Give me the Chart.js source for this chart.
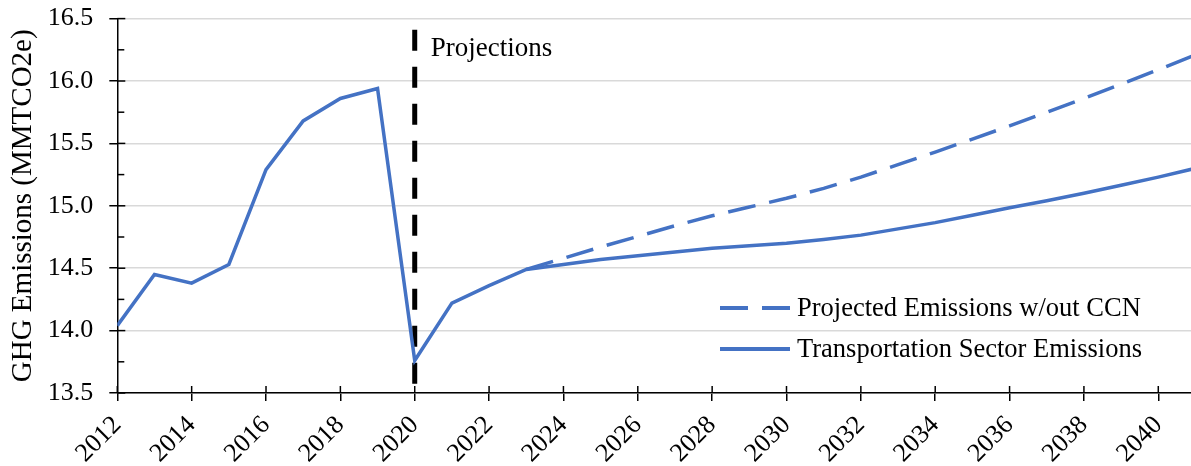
<!DOCTYPE html>
<html>
<head>
<meta charset="utf-8">
<script src="https://cdn.jsdelivr.net/npm/chart.js@4.4.1/dist/chart.umd.min.js"></script>
<style>
  body { margin: 0; background: #fff; }
  #wrap { width: 1191px; height: 466px; }
</style>
</head>
<body>
<div id="wrap"><canvas id="ghg-chart" width="1191" height="466"></canvas></div>
<script>
// Chart data
var years = [2012, 2013, 2014, 2015, 2016, 2017, 2018, 2019, 2020, 2021,
  2022, 2023, 2024, 2025, 2026, 2027, 2028, 2029, 2030, 2031,
  2032, 2033, 2034, 2035, 2036, 2037, 2038, 2039, 2040, 2041];
var transportEmissions = [14.04, 14.45, 14.38, 14.53, 15.29, 15.68, 15.86, 15.94, 13.76, 14.22,
  14.36, 14.49, 14.53, 14.57, 14.60, 14.63, 14.66, 14.68, 14.70, 14.73,
  14.765, 14.815, 14.865, 14.925, 14.985, 15.04, 15.10, 15.165, 15.23, 15.30];
var projectedNoCCN = [null, null, null, null, null, null, null, null, null, null,
  null, 14.49, 14.58, 14.67, 14.755, 14.84, 14.92, 14.99, 15.06, 15.14,
  15.23, 15.33, 15.43, 15.535, 15.64, 15.75, 15.86, 15.975, 16.09, 16.21];
var projectionYear = [2020, 2020];
var projectionRange = [16.41, 13.5];
var xTicks = [2012, 2014, 2016, 2018, 2020, 2022, 2024, 2026, 2028, 2030,
  2032, 2034, 2036, 2038, 2040];
var yTicks = [13.5, 14.0, 14.5, 15.0, 15.5, 16.0, 16.5];

var blue = '#4472C4';
var serif = '"Liberation Serif", "Times New Roman", serif';

function toPoints(xs, ys) {
  var pts = [];
  for (var i = 0; i < xs.length; i++) {
    if (ys[i] !== null) pts.push({ x: xs[i], y: ys[i] });
  }
  return pts;
}

function isMajor(v) {
  return yTicks.some(function (t) { return Math.abs(t - v) < 1e-6; });
}

// tick marks crossing the axes, plus "Projections" note and legend
var extrasPlugin = {
  id: 'extras',
  afterDraw: function (chart) {
    var ctx = chart.ctx;
    var area = chart.chartArea;
    var xs = chart.scales.x;
    var ys = chart.scales.y;
    ctx.save();
    ctx.strokeStyle = '#000';
    ctx.lineWidth = 1.5;
    // y ticks: major cross the axis, minor inside only
    ys.ticks.forEach(function (t) {
      var py = ys.getPixelForValue(t.value);
      ctx.beginPath();
      ctx.moveTo(area.left, py);
      ctx.lineTo(area.left + (isMajor(t.value) ? 8 : 7), py);
      ctx.stroke();
    });
    // x ticks inner part
    xs.ticks.forEach(function (t) {
      var px = xs.getPixelForValue(t.value);
      ctx.beginPath();
      ctx.moveTo(px, area.bottom);
      ctx.lineTo(px, area.bottom - 7);
      ctx.stroke();
    });
    // Projections note
    ctx.fillStyle = '#000';
    ctx.font = '27px ' + serif;
    ctx.textBaseline = 'middle';
    ctx.textAlign = 'left';
    ctx.fillText('Projections', xs.getPixelForValue(2020) + 16, area.top + 30);

    // legend
    ctx.font = '26.5px ' + serif;
    var items = [chart.data.datasets[0], chart.data.datasets[1]];
    var lx = area.right - 471;
    var ly = area.bottom - 85;
    items.forEach(function (ds, i) {
      var yy = ly + i * 41;
      ctx.beginPath();
      ctx.strokeStyle = ds.borderColor;
      ctx.lineWidth = 4;
      ctx.setLineDash(ds.borderDash || []);
      ctx.moveTo(lx, yy);
      ctx.lineTo(lx + 70, yy);
      ctx.stroke();
      ctx.setLineDash([]);
      ctx.fillStyle = '#000';
      ctx.fillText(ds.label, lx + 77, yy + 1);
    });
    ctx.restore();
  }
};

var chartConfig = {
  type: 'line',
  data: {
    datasets: [
      {
        label: 'Projected Emissions w/out CCN',
        data: toPoints(years, projectedNoCCN),
        borderColor: blue,
        borderWidth: 3.5,
        borderDash: [28, 14],
        pointRadius: 0,
        fill: false,
        order: 2
      },
      {
        label: 'Transportation Sector Emissions',
        data: toPoints(years, transportEmissions),
        borderColor: blue,
        borderWidth: 3.5,
        pointRadius: 0,
        fill: false,
        order: 1
      },
      {
        label: 'Projections',
        data: toPoints(projectionYear, projectionRange),
        borderColor: '#000',
        borderWidth: 5,
        borderDash: [21, 16],
        pointRadius: 0,
        fill: false,
        order: 3
      }
    ]
  },
  options: {
    responsive: false,
    animation: false,
    layout: { padding: { left: 6, top: 0, right: 0, bottom: 0 } },
    plugins: {
      legend: { display: false },
      tooltip: { enabled: false }
    },
    scales: {
      x: {
        type: 'linear',
        min: 2012,
        max: 2040.88,
        border: { color: '#000', width: 1.5 },
        grid: { drawOnChartArea: false, color: '#000', lineWidth: 1.5, tickLength: 8 },
        ticks: {
          minRotation: 45,
          maxRotation: 45,
          autoSkip: false,
          color: '#000',
          padding: 9,
          font: { family: serif, size: 26 },
          callback: function (v) { return String(v); }
        },
        afterBuildTicks: function (scale) {
          scale.ticks = xTicks.map(function (v) { return { value: v }; });
        },
        afterFit: function (scale) {
          scale.height = 73;
        }
      },
      y: {
        min: 13.5,
        max: 16.5,
        border: { color: '#000', width: 1.5 },
        grid: {
          color: function (c) {
            return (c.tick && isMajor(c.tick.value)) ? '#d9d9d9' : 'rgba(0,0,0,0)';
          },
          lineWidth: 1.5,
          tickColor: function (c) {
            return (c.tick && isMajor(c.tick.value)) ? '#000' : 'rgba(0,0,0,0)';
          },
          tickLength: 8
        },
        ticks: {
          stepSize: 0.25,
          color: '#000',
          padding: 16,
          autoSkip: false,
          font: { family: serif, size: 26, lineHeight: 0.2 },
          callback: function (v) {
            return isMajor(v) ? v.toFixed(1) : '';
          }
        },
        title: {
          display: true,
          text: 'GHG Emissions (MMTCO2e)',
          color: '#000',
          padding: { top: 0, bottom: -9 },
          font: { family: serif, size: 29 }
        }
      }
    }
  },
  plugins: [extrasPlugin]
};

var ghgChart = new Chart(document.getElementById('ghg-chart'), chartConfig);
</script>
</body>
</html>
